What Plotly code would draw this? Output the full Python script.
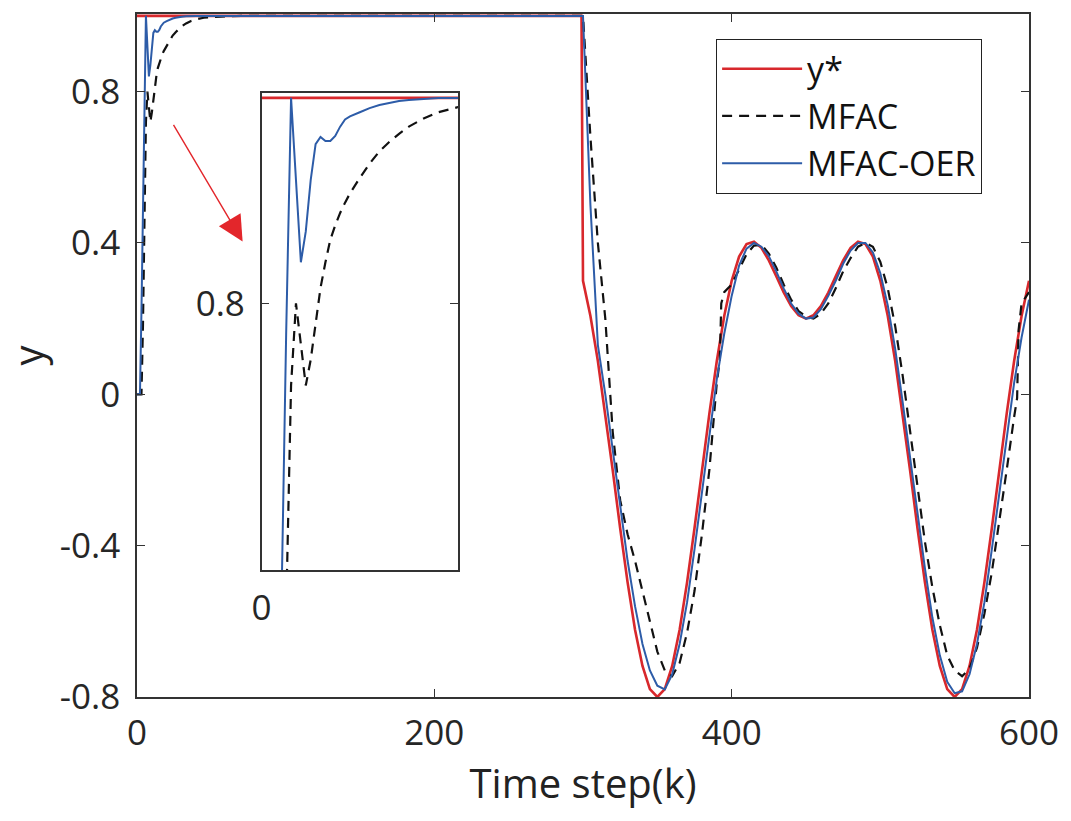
import plotly.graph_objects as go

# ---------------- data ----------------
# early transient (k = 0 ... 299)
k_early = [0, 1, 2, 3, 4, 5, 6, 7, 8, 9, 10, 11, 12, 13, 14, 15, 16, 17, 18,
           20, 22, 24, 26, 28, 30, 33, 36, 40, 45, 50, 60, 70, 80, 120, 200, 299]
oer_early = [0, 0, 0, 0.22, 0.50, 0.77, 1.0, 0.92, 0.84, 0.87, 0.92, 0.955, 0.962, 0.958,
             0.958, 0.963, 0.972, 0.979, 0.982, 0.986, 0.990, 0.993, 0.995, 0.997, 0.998,
             0.999, 1.0, 1.0, 1.0, 1.0, 1.0, 1.0, 1.0, 1.0, 1.0, 1.0]
mfac_early = [0, 0, 0, 0, 0.18, 0.50, 0.72, 0.80, 0.76, 0.72, 0.745, 0.78, 0.815, 0.84,
              0.862, 0.876, 0.888, 0.898, 0.907, 0.922, 0.936, 0.948, 0.957, 0.965, 0.972,
              0.980, 0.986, 0.991, 0.995, 0.997, 0.999, 1.0, 1.0, 1.0, 1.0, 1.0]

# tracking part (k = 300 ... 600, every 5 steps)
k_track = list(range(300, 601, 5))
ref_early_k = [0, 299]
ref_early = [1.0, 1.0]
ref_track = [0.30, 0.207, 0.088, -0.051, -0.201, -0.354, -0.497, -0.622, -0.718, -0.779,
             -0.80, -0.779, -0.718, -0.622, -0.497, -0.354, -0.201, -0.051, 0.088, 0.207,
             0.30, 0.364, 0.397, 0.403, 0.387, 0.354, 0.312, 0.269, 0.233, 0.209,
             0.20, 0.209, 0.233, 0.269, 0.312, 0.354, 0.387, 0.403, 0.397, 0.364,
             0.30, 0.207, 0.088, -0.051, -0.201, -0.354, -0.497, -0.622, -0.718, -0.779,
             -0.80, -0.779, -0.718, -0.622, -0.497, -0.354, -0.201, -0.051, 0.088, 0.207,
             0.30]
oer_track = [1.0, 0.50, 0.13, 0.00, -0.15, -0.30, -0.44, -0.56, -0.66, -0.73,
             -0.77, -0.78, -0.74, -0.66, -0.55, -0.41, -0.26, -0.10, 0.04, 0.16,
             0.26, 0.34, 0.385, 0.40, 0.39, 0.365, 0.325, 0.28, 0.24, 0.213,
             0.20, 0.203, 0.225, 0.26, 0.30, 0.345, 0.38, 0.40, 0.40, 0.375,
             0.32, 0.235, 0.12, -0.02, -0.165, -0.32, -0.46, -0.59, -0.69, -0.76,
             -0.79, -0.785, -0.74, -0.66, -0.55, -0.41, -0.26, -0.11, 0.03, 0.15,
             0.25]
k_mfac_track = (list(range(300, 391, 5)) + [392, 393] + list(range(395, 591, 5))
                + [592, 593] + [595, 600])
mfac_track = [1.00, 0.68, 0.40, 0.20, -0.10, -0.28, -0.37, -0.44, -0.52, -0.60,
              -0.68, -0.73, -0.745, -0.71, -0.63, -0.52, -0.37, -0.20, 0.03,
              0.09, 0.24,
              0.27, 0.29, 0.33, 0.37, 0.393, 0.395, 0.372, 0.335, 0.29, 0.25,
              0.22, 0.205, 0.20, 0.213, 0.24, 0.28, 0.325, 0.36, 0.39, 0.40,
              0.39, 0.35, 0.28, 0.18, 0.05, -0.10, -0.25, -0.39, -0.51, -0.61,
              -0.69, -0.73, -0.745, -0.725, -0.67, -0.58, -0.47, -0.34, -0.20, -0.06,
              -0.01, 0.17,
              0.24, 0.27]

x_ticks = [0, 200, 400, 600]
y_ticks = [-0.8, -0.4, 0, 0.4, 0.8]
y_ticktext = ["-0.8", "-0.4", "0", "0.4", "0.8"]
names = ["y*", "MFAC", "MFAC-OER"]

# ---------------- styling ----------------
RED = "#d8282c"
BLUE = "#2d5ca8"
BLACK = "#111111"
AX = "#333333"
FONT = "Open Sans"
TICK_SIZE = 35

k_ref = ref_early_k + k_track
y_ref = ref_early + ref_track
k_oer = k_early + k_track
y_oer = oer_early + oer_track
k_mfac = k_early + k_mfac_track
y_mfac = mfac_early + mfac_track

fig = go.Figure()
series = [
    (k_ref, y_ref, dict(color=RED, width=2.6)),
    (k_mfac, y_mfac, dict(color=BLACK, width=2.2, dash="10px,7px")),
    (k_oer, y_oer, dict(color=BLUE, width=2.0)),
]
for name, (kx, vy, ln) in zip(names, series):
    fig.add_trace(go.Scatter(x=kx, y=vy, mode="lines", name=name, line=ln,
                             xaxis="x", yaxis="y"))
for name, (kx, vy, ln) in zip(names, series):
    fig.add_trace(go.Scatter(x=kx, y=vy, mode="lines", name=name, line=ln,
                             xaxis="x2", yaxis="y2", showlegend=False))

axis_common = dict(showline=True, linecolor=AX, linewidth=1.5, mirror="ticks",
                   ticks="inside", ticklen=8, tickwidth=1.2, tickcolor=AX,
                   showgrid=False, zeroline=False,
                   tickfont=dict(family=FONT, size=TICK_SIZE, color="#262626"))

fig.update_layout(
    width=1071, height=821, autosize=False,
    margin=dict(l=137, r=39, t=12, b=124),
    paper_bgcolor="white", plot_bgcolor="white",
    showlegend=True,
    legend=dict(x=0.649, y=0.9635, xanchor="left", yanchor="top",
                bgcolor="white", bordercolor="#222222", borderwidth=1.2,
                font=dict(family=FONT, size=34, color="#111111"),
                itemwidth=80, tracegroupgap=0),
    xaxis=dict(domain=[0, 1], range=[0, 600], tickvals=x_ticks, anchor="y",
               ticklabelstandoff=4,
               title=dict(text="Time step(k)", standoff=16,
                          font=dict(family=FONT, size=40, color="#222222")),
               **axis_common),
    yaxis=dict(domain=[0, 1], range=[-0.8, 1.005], tickvals=y_ticks,
               ticktext=y_ticktext, anchor="x", ticklabelstandoff=8,
               title=dict(text="y", standoff=8,
                          font=dict(family=FONT, size=40, color="#222222")),
               **axis_common),
    xaxis2=dict(domain=[0.1397, 0.3598], range=[0, 40], tickvals=[0], anchor="y2",
                ticklabelstandoff=6, **axis_common),
    yaxis2=dict(domain=[0.1854, 0.8847], range=[0.54, 1.005], tickvals=[0.8],
                anchor="x2", ticklabelstandoff=8, **axis_common),
    annotations=[dict(x=0.1184, y=0.667, xref="paper", yref="paper", text="",
                      showarrow=True, ax=-70, ay=-118, arrowhead=2, arrowsize=3.6,
                      arrowwidth=1.4, arrowcolor="#e3262b")],
)

fig.write_html("out.html")
